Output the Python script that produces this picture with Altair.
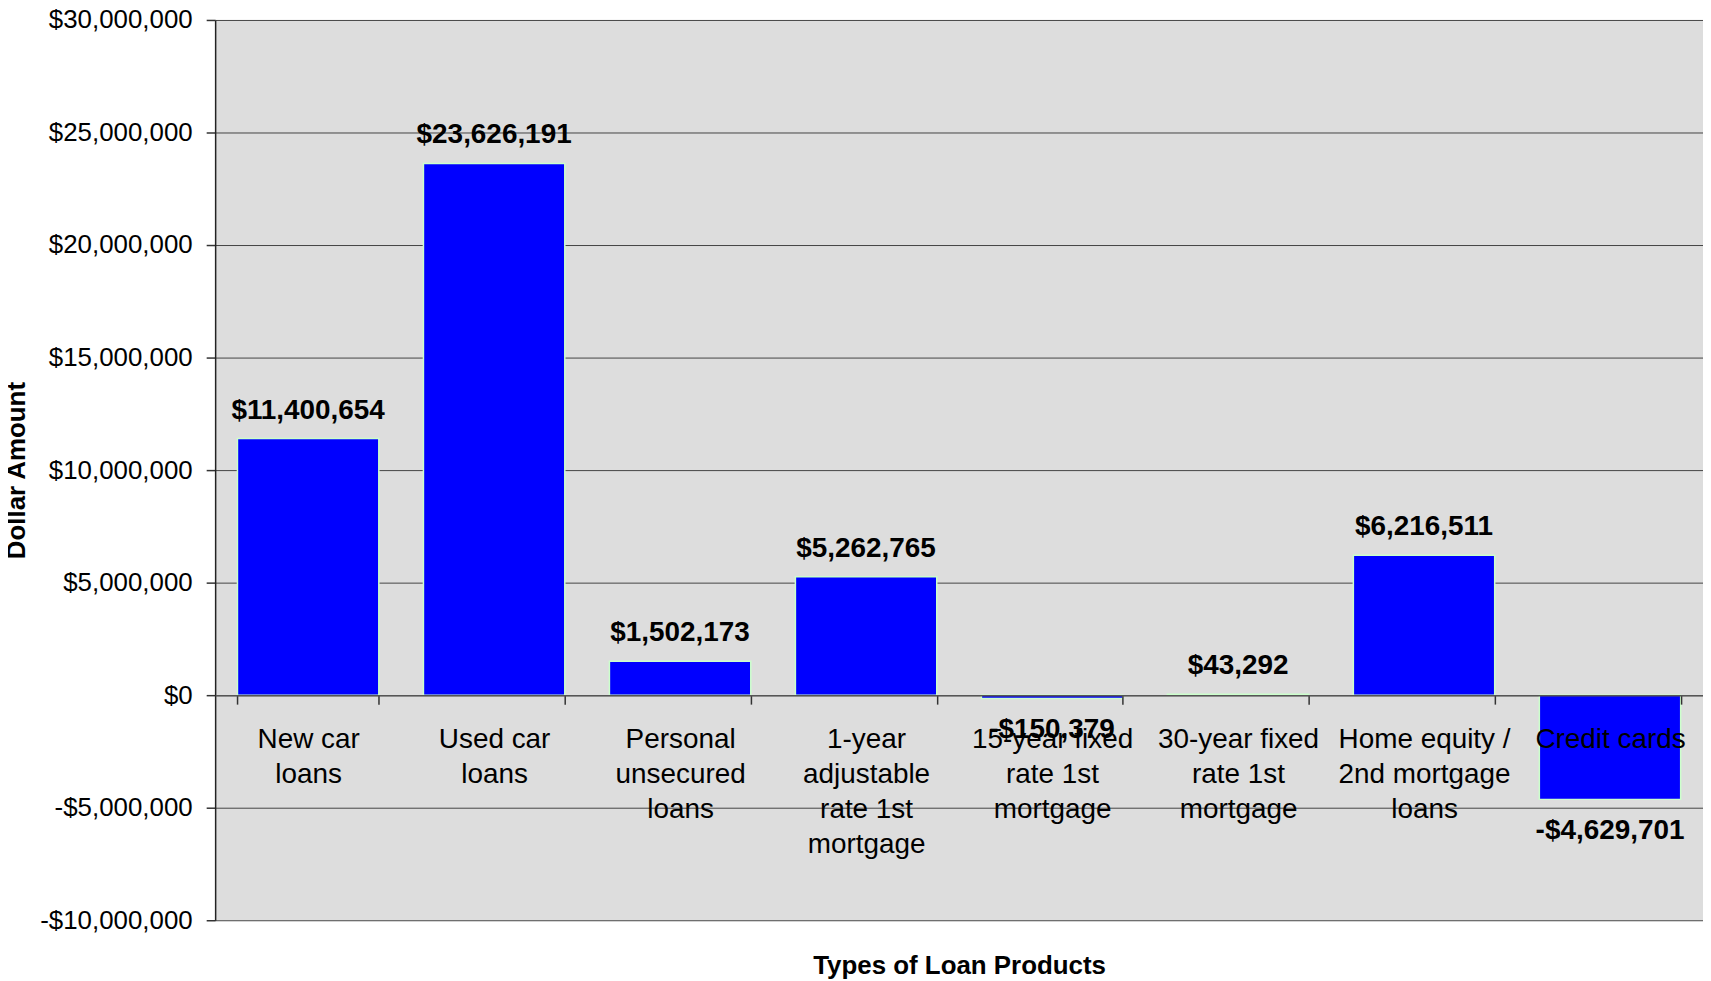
import altair as alt
import pandas as pd

categories = [
    "New car\nloans",
    "Used car\nloans",
    "Personal\nunsecured\nloans",
    "1-year\nadjustable\nrate 1st\nmortgage",
    "15-year fixed\nrate 1st\nmortgage",
    "30-year fixed\nrate 1st\nmortgage",
    "Home equity /\n2nd mortgage\nloans",
    "Credit cards",
]
amounts = [11400654, 23626191, 1502173, 5262765, -150379, 43292, 6216511, -4629701]
y_ticks = [-10000000, -5000000, 0, 5000000, 10000000, 15000000, 20000000, 25000000, 30000000]

df = pd.DataFrame({"category": categories, "amount": amounts})

FONT = "Liberation Sans"
money_expr = "(datum.amount < 0 ? '-' : '') + '$' + format(abs(datum.amount), ',')"

x_enc = alt.X(
    "category:N",
    sort=categories,
    scale=alt.Scale(paddingInner=0.24, paddingOuter=0.12),
    axis=alt.Axis(
        title="Types of Loan Products",
        titleFont=FONT, titleFontSize=26, titleFontWeight="bold", titleColor="black",
        titleY=271, titleBaseline="middle",
        labelExpr="split(datum.label, '\\n')",
        labelAngle=0, labelFont=FONT, labelFontSize=28, labelLineHeight=35,
        labelBaseline="top", labelPadding=22, labelColor="black",
        labelLimit=400, labelOverlap=False,
        tickBand="extent", tickSize=9, tickColor="#333333", tickWidth=1.5,
        domainColor="#555555", domainWidth=1.5,
        offset=-226, zindex=1, grid=False,
    ),
)

y_enc = alt.Y(
    "amount:Q",
    scale=alt.Scale(domain=[-10000000, 30000000], nice=False, zero=False),
    axis=alt.Axis(
        values=y_ticks,
        labelExpr="(datum.value < 0 ? '-' : '') + '$' + format(abs(datum.value), ',')",
        labelFont=FONT, labelFontSize=26, labelColor="black", labelPadding=14,
        tickSize=9, tickColor="#333333", tickWidth=1.5,
        domainColor="#222222", domainWidth=1.5,
        grid=True, gridColor="#444444", gridWidth=1,
        title="Dollar Amount",
        titleFont=FONT, titleFontSize=26, titleFontWeight="bold", titleColor="black",
        titleX=-199, titleY=452, titleAngle=270, titleAlign="center", titleBaseline="middle",
    ),
)

bars = alt.Chart(df).mark_bar(color="#0000ff", stroke="#ccffcc", strokeWidth=1.5).encode(
    x=x_enc, y=y_enc
)

text_pos = alt.Chart(df).transform_filter("datum.amount >= 0").transform_calculate(
    label=money_expr
).mark_text(font=FONT, fontSize=28, fontWeight="bold", color="black", baseline="middle", dy=-28).encode(
    x=alt.X("category:N", sort=categories), y=alt.Y("amount:Q"), text="label:N"
)

text_neg = alt.Chart(df).transform_filter("datum.amount < 0").transform_calculate(
    label=money_expr
).mark_text(font=FONT, fontSize=28, fontWeight="bold", color="black", baseline="middle", dy=32).encode(
    x=alt.X("category:N", sort=categories), y=alt.Y("amount:Q"), text="label:N"
)

chart = alt.layer(bars, text_pos, text_neg).properties(
    width=1494,
    height=904,
    autosize=alt.AutoSizeParams(type="none"),
    padding={"left": 208, "top": 10, "right": 0, "bottom": 60},
).configure(font=FONT).configure_view(fill="#dddddd", strokeWidth=0)

chart.save("out.html", embed_options={"renderer": "svg", "actions": False})
